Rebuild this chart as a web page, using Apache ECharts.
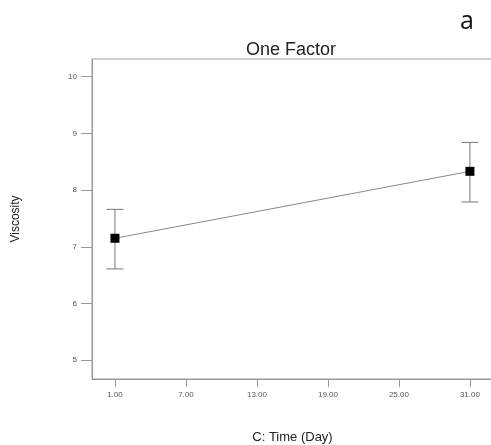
<!DOCTYPE html>
<html>
<head>
<meta charset="utf-8">
<script src="https://cdn.jsdelivr.net/npm/echarts@6/dist/echarts.min.js"></script>
<style>html,body{margin:0;padding:0;background:#fff;}#c{width:491px;height:445px;}</style>
</head>
<body>
<div id="c"></div>
<script>
const days = [1, 31];
const viscosity = [7.15, 8.33];
const lowerCI = [6.61, 7.79];
const upperCI = [7.66, 8.84];
const xTicks = [1, 7, 13, 19, 25, 31];
const yTicks = [5, 6, 7, 8, 9, 10];

const chart = echarts.init(document.getElementById('c'), null, {renderer: 'canvas'});
const font = '"Liberation Sans", Arial, sans-serif';

chart.setOption({
  animation: false,
  backgroundColor: '#fff',
  grid: {left: 92, top: 59, right: -2, bottom: 66, containLabel: false, outerBoundsMode: 'none', show: true, borderColor: '#999', borderWidth: 1, backgroundColor: 'transparent'},
  graphic: [
    {type: 'text', x: 291, y: 50, style: {text: 'One Factor', font: '18px ' + font, fill: '#222', textAlign: 'center', textVerticalAlign: 'middle'}},
    {type: 'text', x: 467, y: 22, style: {text: 'a', font: '25px "Open Sans", sans-serif', fill: '#111', textAlign: 'center', textVerticalAlign: 'middle'}}
  ],
  xAxis: {
    type: 'value', min: -0.94, max: 32.95,
    name: 'C: Time (Day)', nameLocation: 'middle', nameGap: 52,
    nameTextStyle: {fontFamily: font, fontSize: 13, color: '#222'},
    axisLine: {show: true, onZero: false, lineStyle: {color: '#999'}},
    axisTick: {show: true, length: 8, customValues: xTicks, lineStyle: {color: '#999'}},
    axisLabel: {customValues: xTicks, formatter: v => v.toFixed(2), fontFamily: font, fontSize: 8, color: '#555', margin: 12},
    splitLine: {show: false}
  },
  yAxis: {
    type: 'value', min: 4.67, max: 10.31,
    name: 'Viscosity', nameLocation: 'middle', nameGap: 70,
    nameTextStyle: {fontFamily: font, fontSize: 12, color: '#222'},
    axisLine: {show: true, onZero: false, lineStyle: {color: '#999'}},
    axisTick: {show: true, length: 11, customValues: yTicks, lineStyle: {color: '#999'}},
    axisLabel: {customValues: yTicks, fontFamily: font, fontSize: 8, color: '#555', margin: 15},
    splitLine: {show: false}
  },
  series: [
    {
      type: 'custom',
      data: days.map((d, i) => [d, lowerCI[i], upperCI[i]]),
      renderItem: function (params, api) {
        const lo = api.coord([api.value(0), api.value(1)]);
        const hi = api.coord([api.value(0), api.value(2)]);
        const w = 8.5;
        const st = {stroke: '#777', lineWidth: 1};
        return {type: 'group', children: [
          {type: 'line', shape: {x1: hi[0], y1: hi[1], x2: lo[0], y2: lo[1]}, style: st},
          {type: 'line', shape: {x1: hi[0] - w, y1: hi[1], x2: hi[0] + w, y2: hi[1]}, style: st},
          {type: 'line', shape: {x1: lo[0] - w, y1: lo[1], x2: lo[0] + w, y2: lo[1]}, style: st}
        ]};
      },
      z: 2
    },
    {
      type: 'line',
      data: days.map((d, i) => [d, viscosity[i]]),
      symbol: 'rect', symbolSize: 9,
      itemStyle: {color: '#000'},
      lineStyle: {color: '#888', width: 1},
      z: 3
    }
  ]
});
</script>
</body>
</html>
